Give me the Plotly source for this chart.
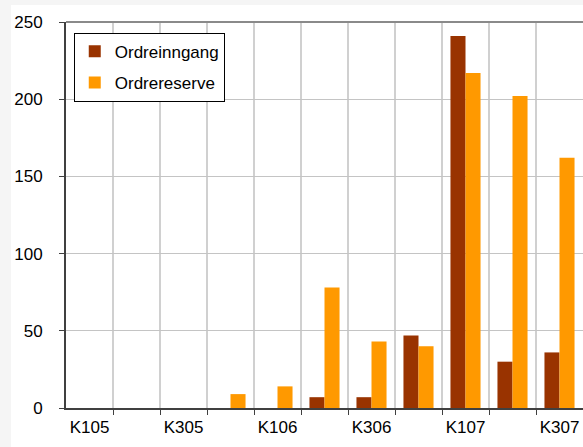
import plotly.graph_objects as go

# Categories (every other label shown on axis)
categories = ["K105", "K205", "K305", "K405", "K106", "K206",
              "K306", "K406", "K107", "K207", "K307"]
ordreinngang = [0, 0, 0, 0, 0, 7, 7, 47, 241, 30, 36]
ordrereserve = [0, 0, 0, 9, 14, 78, 43, 40, 217, 202, 162]

DARK = "#993300"
ORANGE = "#FF9900"
GRID = "#d0d0d0"
AXIS = "#404040"
FONT = "Liberation Sans, Arial, sans-serif"

x = list(range(len(categories)))
ticktext = [c if i % 2 == 0 else "" for i, c in enumerate(categories)]

fig = go.Figure()
fig.add_trace(go.Bar(x=x, y=ordreinngang, name="Ordreinngang",
                     marker=dict(color=DARK, line=dict(width=0)),
                     legendgroup="a"))
fig.add_trace(go.Bar(x=x, y=ordrereserve, name="Ordrereserve",
                     marker=dict(color=ORANGE, line=dict(width=0)),
                     legendgroup="b"))

# page background band + white chart area
fig.add_shape(type="rect", xref="paper", yref="paper",
              x0=-0.1064, x1=1.2, y0=-0.3, y1=1.044,
              fillcolor="white", line=dict(width=0), layer="below")
# top border of plot area
fig.add_shape(type="line", xref="paper", yref="paper",
              x0=0, x1=1, y0=1, y1=1,
              line=dict(color="#8a8a8a", width=2))

fig.update_layout(
    width=583, height=447,
    paper_bgcolor="#f5f5f5",
    plot_bgcolor="white",
    font=dict(family=FONT, size=17, color="black"),
    barmode="group",
    bargap=0.36,
    bargroupgap=0,
    margin=dict(l=66, r=0, t=22, b=39),
    xaxis=dict(
        range=[-0.5, 10.5],
        tickvals=x, ticktext=ticktext,
        ticks="", showgrid=False,
        showline=True, linecolor=AXIS, linewidth=2,
        minor=dict(tickvals=[i + 0.5 for i in x[:-1]], ticks="outside",
                   ticklen=5, tickcolor=AXIS, showgrid=True,
                   gridcolor=GRID, gridwidth=1.5),
        ticklabelstandoff=3,
        zeroline=False,
    ),
    yaxis=dict(
        range=[0, 250], dtick=50,
        ticks="outside", ticklen=5, tickcolor=AXIS,
        showgrid=True, gridcolor="#c4c4c4", gridwidth=1,
        showline=True, linecolor=AXIS, linewidth=2,
        zeroline=False,
        ticklabelstandoff=13,
    ),
    legend=dict(
        x=0.015, y=0.972, xanchor="left", yanchor="top",
        bgcolor="white", bordercolor="black", borderwidth=1,
        font=dict(family=FONT, size=17, color="black"),
        tracegroupgap=6,
        traceorder="grouped",
    ),
    showlegend=True,
)

fig.write_html("out.html", config={"displayModeBar": False},
               post_script="document.body.style.margin='0';document.body.style.overflow='hidden';")
